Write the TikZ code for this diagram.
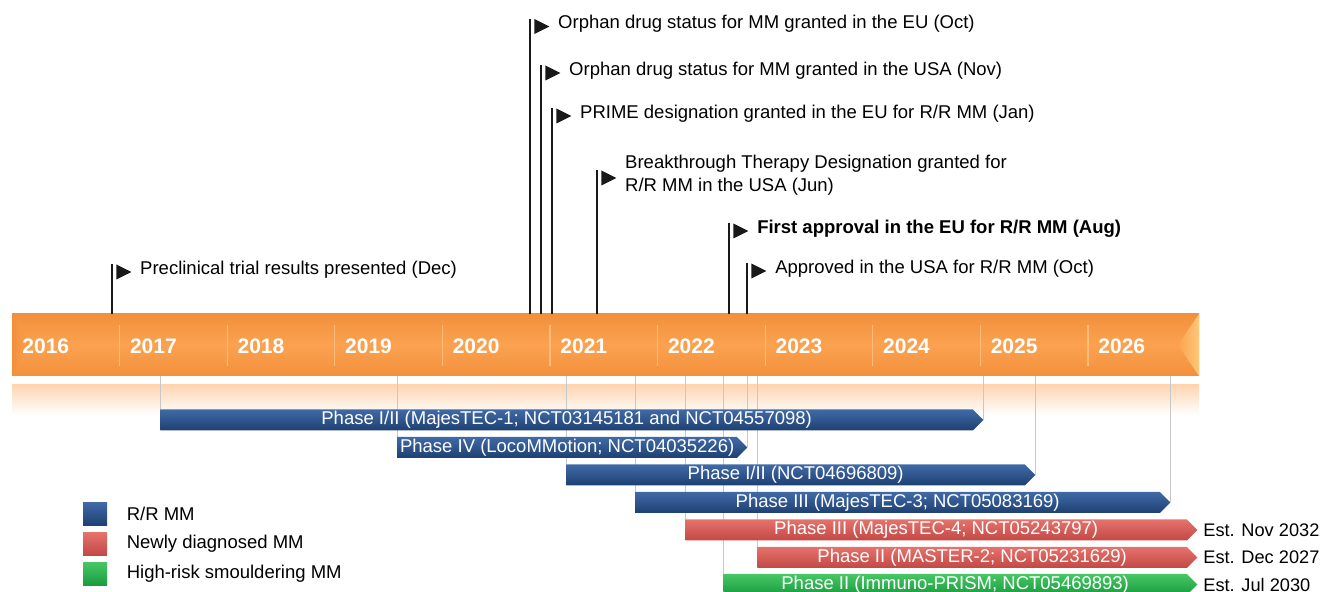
\documentclass[tikz,border=0pt]{standalone}
\usepackage{fontspec}
\setmainfont{Liberation Sans}
\usetikzlibrary{positioning,shapes.geometric,shapes.symbols,backgrounds}
\definecolor{bandorange}{RGB}{251,162,80}
\definecolor{banddark}{RGB}{242,144,60}
\definecolor{bandlight}{RGB}{253,188,122}
\definecolor{bandtip}{RGB}{254,200,120}
\definecolor{rrtop}{RGB}{64,106,166}
\definecolor{rrbot}{RGB}{30,64,114}
\definecolor{ndtop}{RGB}{230,114,108}
\definecolor{ndbot}{RGB}{194,72,68}
\definecolor{hrtop}{RGB}{72,198,102}
\definecolor{hrbot}{RGB}{24,156,62}
\definecolor{guidegray}{RGB}{200,200,200}

\begin{document}
\begin{tikzpicture}[x=0.5pt,y=-0.5pt,inner sep=0pt,node distance=3.75pt]
\tikzstyle{pole}=[line width=1.1pt, black!90]
\tikzstyle{flag}=[isosceles triangle, isosceles triangle apex angle=53, minimum size=7.5pt, fill=black!90, anchor=west]
\tikzstyle{event}=[font=\fontsize{9.25}{11.5}\selectfont, align=left, yshift=1.25pt]
\tikzstyle{year}=[font=\fontsize{10.5}{12}\selectfont\bfseries, text=white, anchor=west]
\tikzstyle{divider}=[line width=0.6pt, bandlight]
\tikzstyle{guide}=[line width=0.5pt, guidegray]
\tikzstyle{trial}=[signal, signal to=east, signal pointer angle=90, minimum height=10.5pt, anchor=west, font=\fontsize{9.25}{11}\selectfont, text=white]
\tikzstyle{rrmm}=[top color=rrtop, bottom color=rrbot]
\tikzstyle{ndmm}=[top color=ndtop, bottom color=ndbot]
\tikzstyle{hrmm}=[top color=hrtop, bottom color=hrbot]
\tikzstyle{estdate}=[font=\fontsize{9.1}{11}\selectfont]
\tikzstyle{legbox}=[minimum width=12pt, minimum height=11.5pt]
\tikzstyle{legtext}=[font=\fontsize{9.25}{11}\selectfont]
\useasboundingbox (0,0) rectangle (1322,592);
% timeline band
\shade[top color=banddark, bottom color=banddark, middle color=bandorange] (12,314) rectangle (1199,376);
\shade[left color=bandorange, right color=bandtip] (1178,345) -- (1199,314) -- (1199,376) -- cycle;
\shade[left color=banddark, right color=bandorange] (12,314) -- (31,345) -- (12,376) -- cycle;
\coordinate (bandtop) at (0,314);
\coordinate (bandbot) at (0,376);
\foreach \k in {1,...,10} \draw[divider] (12+107.6*\k,325) -- (12+107.6*\k,366);
\foreach \yr [count=\k from 0] in {2016,...,2026} \node[year] (y\yr) at (22+107.6*\k,346) {\yr};
% milestones
\coordinate (ppre) at (112,264);
\coordinate (poeu) at (530,19);
\coordinate (pous) at (541,65);
\coordinate (pprime) at (552,108);
\coordinate (pbtd) at (597,170);
\coordinate (pfa) at (729,223);
\coordinate (pap) at (747,263);
\draw[pole] (ppre) -- (ppre |- bandtop);
\draw[pole] (poeu) -- (poeu |- bandtop);
\draw[pole] (pous) -- (pous |- bandtop);
\draw[pole] (pprime) -- (pprime |- bandtop);
\draw[pole] (pbtd) -- (pbtd |- bandtop);
\draw[pole] (pfa) -- (pfa |- bandtop);
\draw[pole] (pap) -- (pap |- bandtop);
\node[flag] (fpre) at (116,272) {};
\node[flag] (foeu) at (534,26.5) {};
\node[flag] (fous) at (545,73) {};
\node[flag] (fprime) at (556,116) {};
\node[flag] (fbtd) at (601,178) {};
\node[flag] (ffa) at (733,231) {};
\node[flag] (fap) at (751,271) {};
\node[event] (epre) [right=of fpre] {Preclinical trial results presented (Dec)};
\node[event] (eoeu) [right=of foeu] {Orphan drug status for MM granted in the EU (Oct)};
\node[event] (eous) [right=of fous] {Orphan drug status for MM granted in the USA (Nov)};
\node[event] (eprime) [right=of fprime] {PRIME designation granted in the EU for R/R MM (Jan)};
\node[event] (ebtd) [right=of fbtd] {Breakthrough Therapy Designation granted for\\R/R MM in the USA (Jun)};
\node[event,font=\fontsize{9.25}{11.5}\selectfont\bfseries] (efa) [right=of ffa] {First approval in the EU for R/R MM (Aug)};
\node[event] (eap) [right=of fap] {Approved in the USA for R/R MM (Oct)};
% trials
\node[trial,rrmm,minimum width=411.5pt] (b1) at (160,420) {Phase I/II (MajesTEC-1; NCT03145181 and NCT04557098)};
\node[trial,rrmm,minimum width=175pt] (b2) at (397,447.5) {Phase IV (LocoMMotion; NCT04035226)};
\node[trial,rrmm,minimum width=234.5pt] (b3) at (566,475) {Phase I/II (NCT04696809)};
\node[trial,rrmm,minimum width=267.5pt] (b4) at (635,502.5) {Phase III (MajesTEC-3; NCT05083169)};
\node[trial,ndmm,minimum width=256pt] (b5) at (685,530) {Phase III (MajesTEC-4; NCT05243797)};
\node[trial,ndmm,minimum width=220pt] (b6) at (757,557.5) {Phase II (MASTER-2; NCT05231629)};
\node[trial,hrmm,minimum width=237pt] (b7) at (723,584.5) {Phase II (Immuno-PRISM; NCT05469893)};
\node[estdate] (d5) [right=2.5pt of b5] {Est. Nov 2032};
\node[estdate] (d6) [right=2.5pt of b6] {Est. Dec 2027};
\node[estdate] (d7) [right=2.5pt of b7] {Est. Jul 2030};
\begin{scope}[on background layer]
\shade[top color=bandorange!45!white, bottom color=white] (12,385) rectangle (1199,415);
\draw[guide] (b1.west |- bandbot) -- (b1.west);
\draw[guide] (b2.west |- bandbot) -- (b2.west);
\draw[guide] (b3.west |- bandbot) -- (b3.west);
\draw[guide] (b4.west |- bandbot) -- (b4.west);
\draw[guide] (b5.west |- bandbot) -- (b5.west);
\draw[guide] (b6.west |- bandbot) -- (b6.west);
\draw[guide] (b7.west |- bandbot) -- (b7.west);
\draw[guide] (b1.east |- bandbot) -- (b1.east);
\draw[guide] (b2.east |- bandbot) -- (b2.east);
\draw[guide] (b3.east |- bandbot) -- (b3.east);
\draw[guide] (b4.east |- bandbot) -- (b4.east);
\end{scope}
% legend
\node[legbox,rrmm] (lrr) at (95,514) {};
\node[legbox,ndmm] (lnd) at (95,544) {};
\node[legbox,hrmm] (lhr) at (95,574) {};
\node[legtext] (trr) [right=9.5pt of lrr] {R/R MM};
\node[legtext] (tnd) [right=9.5pt of lnd] {Newly diagnosed MM};
\node[legtext] (thr) [right=9.5pt of lhr] {High-risk smouldering MM};
\end{tikzpicture}
\end{document}
